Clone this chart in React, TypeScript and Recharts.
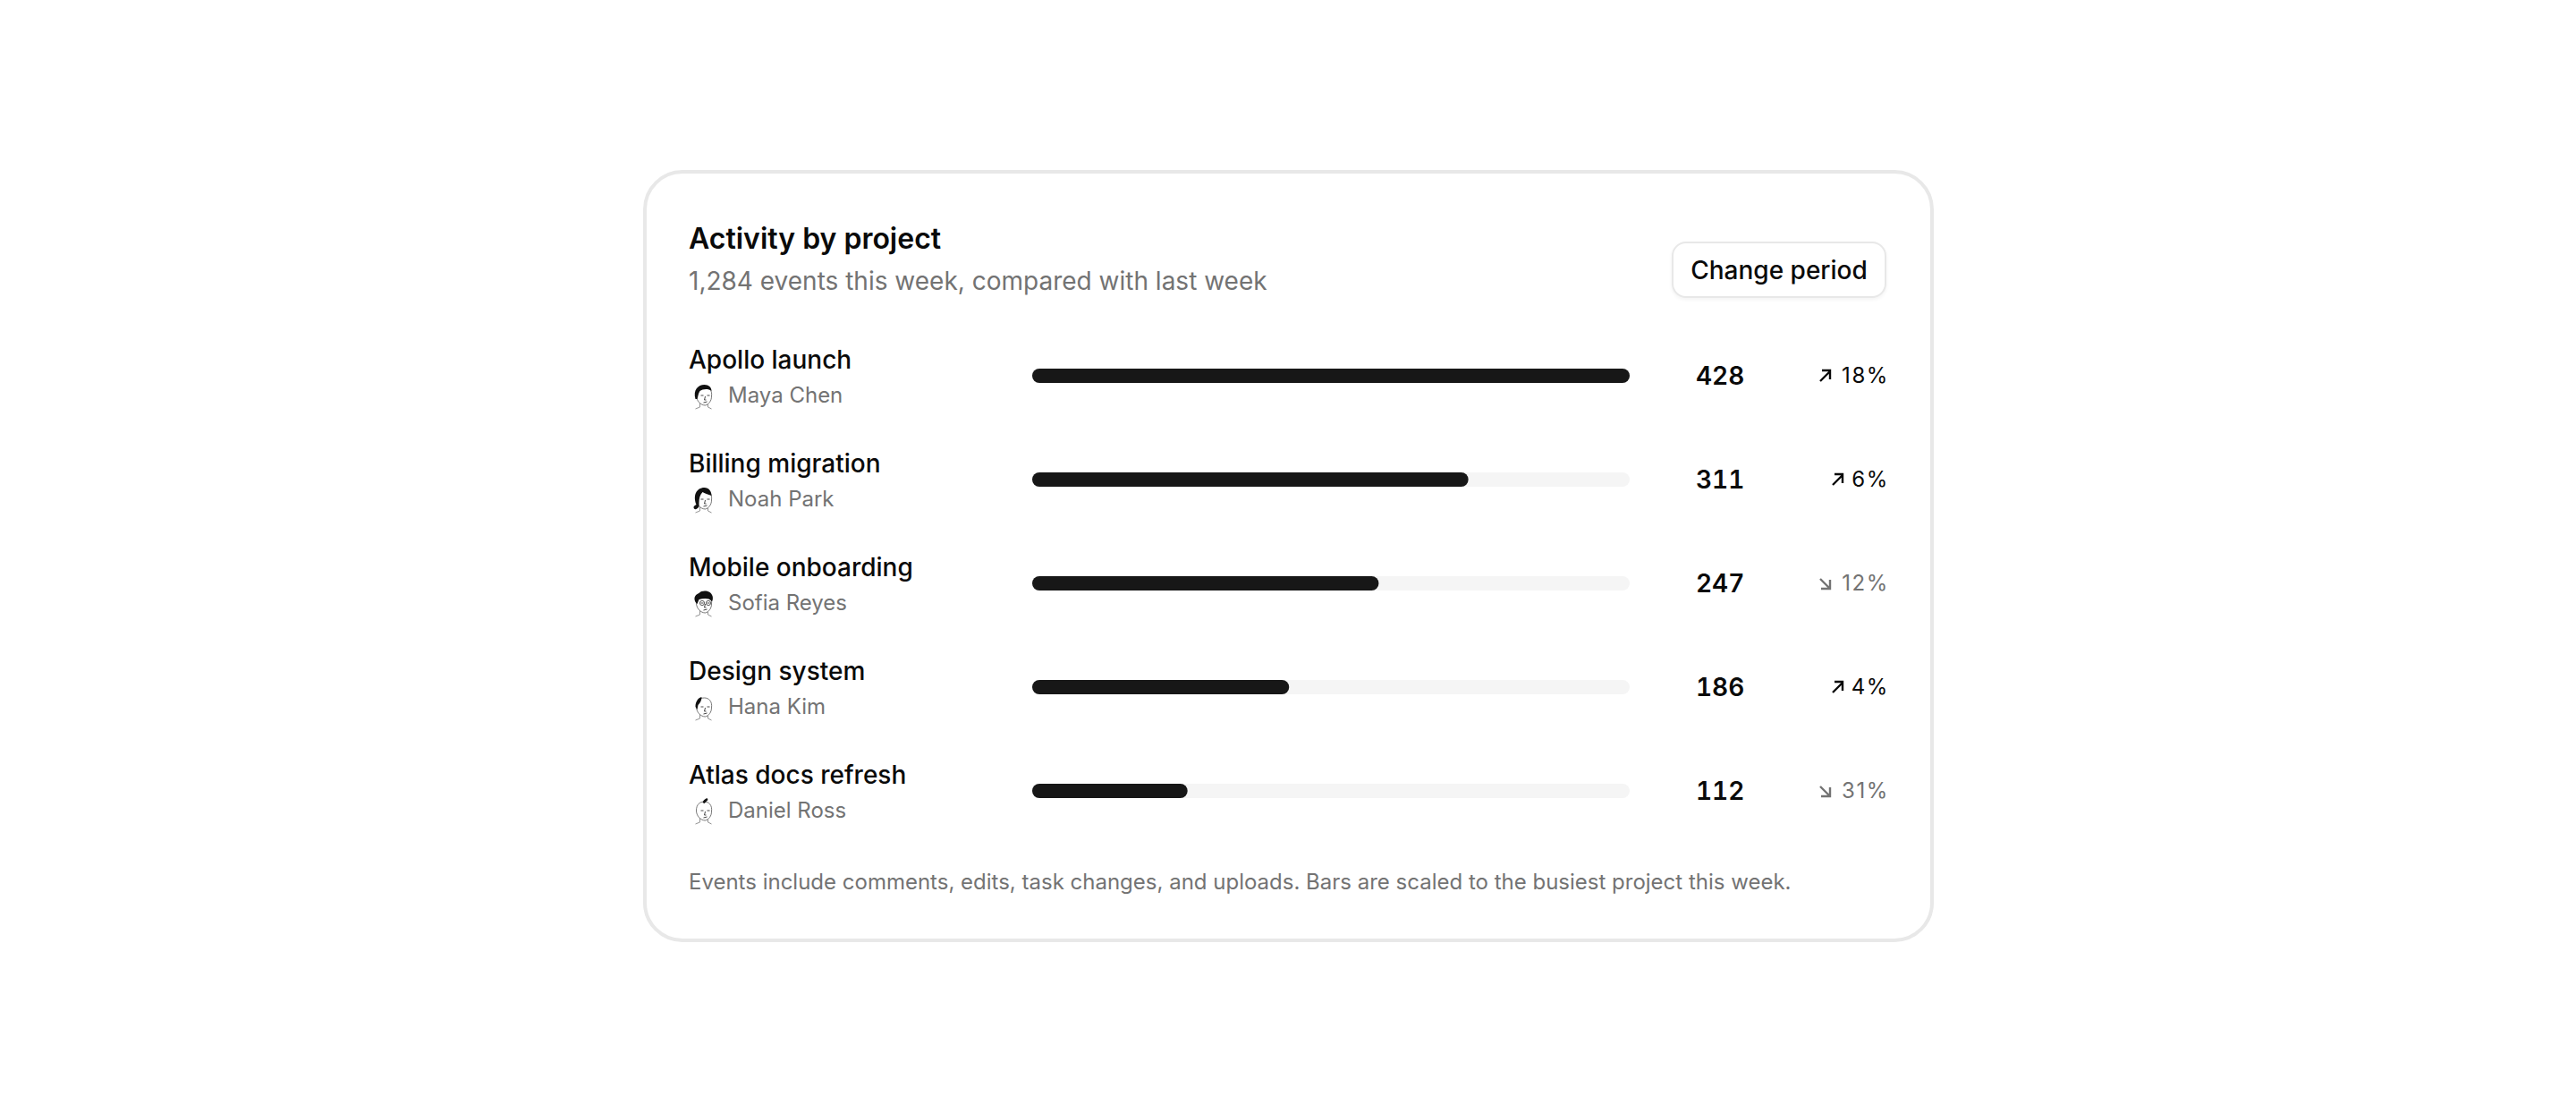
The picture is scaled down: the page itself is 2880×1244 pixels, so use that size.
import { BarChart, Bar, XAxis, YAxis } from "recharts";

const projects = ["Apollo launch", "Billing migration", "Mobile onboarding", "Design system", "Atlas docs refresh"];
const owners = ["Maya Chen", "Noah Park", "Sofia Reyes", "Hana Kim", "Daniel Ross"];
const events = [428, 311, 247, 186, 112];
// bar length, percent of the busiest project (whole percents)
const shares = [100, 73, 58, 43, 26];
const changes = [18, 6, -12, 4, -31];

const data = projects.map((project, i) => ({ project, share: shares[i] }));

const FONT = "Inter, sans-serif";
const GREY = "#737373";

// hair shapes for the little line-drawn faces, in a 36px box
const hairPaths = [
  "M9 22C6 12 12 6 19 6C24 6 27 9 27 13C23 10 17 11 14 13C12 16 12 19 11 22Z",
  "M10 24C6 14 10 5 19 5C24 5 27 9 27 14C23 13 19 11 17 10C14 13 13 17 13 22L13 26C11 30 7 30 7 27C7 25 9 25 10 24Z",
  "M9 17C6 11 10 8 13 7C17 3 26 4 28 10C29 13 28 17 27 16C24 12 18 13 13 14L11 19Z",
  "M9 18C9 12 12 8 16 7C16 11 14 14 12 16L11 21Z",
  "M17 9C18 6 20 5 22 4L23 6C21 8 20 9 19 10Z",
];

function Face({ x, y, index }: { x: number; y: number; index: number }) {
  return (
    <g transform={`translate(${x},${y})`}>
      <path d="M10 18C10 11 14 8 19 8C24 8 28 12 27 19C27 24 24 28 20 29C15 29 10 24 10 18Z" fill="#fff" stroke="#555" strokeWidth={0.8} />
      <path d="M14 27L14 31L9 33M23 28L23 31L27 33" fill="none" stroke="#777" strokeWidth={0.8} />
      <path d={hairPaths[index]} fill="#111" />
      <path d="M15 18L18 18M22 18L25 18M20 19L19 23L21 23M18 26L22 25" fill="none" stroke="#333" strokeWidth={0.9} />
      {index === 2 && (
        <g fill="none" stroke="#333" strokeWidth={0.8}>
          <circle cx={16.5} cy={18} r={2.6} />
          <circle cx={23.5} cy={18} r={2.6} />
        </g>
      )}
    </g>
  );
}

function NameTick({ y, index }: any) {
  return (
    <g>
      <text x={50} y={y - 8} fontSize={28} fontWeight={500} fill="#0a0a0a" fontFamily={FONT}>
        {projects[index]}
      </text>
      <Face x={48.5} y={y + 4} index={index} />
      <text x={94} y={y + 30} fontSize={24} fill={GREY} fontFamily={FONT}>
        {owners[index]}
      </text>
    </g>
  );
}

function ValueTick({ y, index }: any) {
  const change = changes[index];
  const up = change > 0;
  const color = up ? "#0a0a0a" : GREY;
  const label = `${Math.abs(change)}%`;
  const arrowX = Math.abs(change) >= 10 ? 1314 : 1328;
  return (
    <g>
      <text x={1176} y={y + 10} fontSize={28} fontWeight={600} fill="#0a0a0a" fontFamily={FONT} style={{ fontVariantNumeric: "tabular-nums" }}>
        {events[index]}
      </text>
      <g transform={`translate(${arrowX},${y - 7})`} fill="none" stroke={color} strokeWidth={2.4}>
        {up ? <path d="M1 13L12 2M3 1L12 1L12 11" /> : <path d="M1 2L12 13M12 3L12 13L2 13" />}
      </g>
      <text x={1392} y={y + 8} textAnchor="end" fontSize={24} letterSpacing={1.6} fill={color} fontFamily={FONT}>
        {label}
      </text>
    </g>
  );
}

export default function App() {
  return (
    <div style={{ position: "absolute", left: 0, top: 0, width: 2880, height: 1244, background: "#fff", fontFamily: FONT }}>
      <div
        style={{
          position: "absolute",
          left: 719,
          top: 190,
          width: 1443,
          height: 863,
          boxSizing: "border-box",
          border: "4px solid #e8e8e8",
          borderRadius: 44,
          background: "#fff",
        }}
      />
      <div style={{ position: "absolute", left: 770, top: 248, fontSize: 32, lineHeight: "38px", fontWeight: 600, color: "#0a0a0a" }}>
        Activity by project
      </div>
      <div style={{ position: "absolute", left: 770, top: 296, fontSize: 28, lineHeight: "36px", color: GREY }}>
        1,284 events this week, compared with last week
      </div>
      <div
        style={{
          position: "absolute",
          left: 1869,
          top: 270,
          width: 240,
          height: 63,
          boxSizing: "border-box",
          border: "2px solid #e8e8e8",
          borderRadius: 16,
          background: "#fff",
          boxShadow: "0 2px 4px rgba(0,0,0,0.05)",
          fontSize: 28,
          fontWeight: 500,
          lineHeight: "60px",
          textAlign: "center",
          color: "#0a0a0a",
        }}
      >
        Change period
      </div>
      <div style={{ position: "absolute", left: 720, top: 190 }}>
        <BarChart
          width={1442}
          height={863}
          data={data}
          layout="vertical"
          margin={{ top: 172, right: 0, bottom: 111, left: 0 }}
          barSize={16}
        >
          <XAxis type="number" domain={[0, 100]} hide />
          <YAxis yAxisId="name" type="category" dataKey="project" width={434} axisLine={false} tickLine={false} tick={<NameTick />} interval={0} />
          <YAxis yAxisId="value" type="category" dataKey="project" orientation="right" width={340} axisLine={false} tickLine={false} tick={<ValueTick />} interval={0} />
          <Bar
            yAxisId="name"
            dataKey="share"
            fill="#171717"
            radius={8}
            background={{ fill: "#f5f5f5", radius: 8 }}
            isAnimationActive={false}
          />
        </BarChart>
      </div>
      <div style={{ position: "absolute", left: 770, top: 968, fontSize: 24, lineHeight: "36px", color: GREY }}>
        Events include comments, edits, task changes, and uploads. Bars are scaled to the busiest project this week.
      </div>
    </div>
  );
}
